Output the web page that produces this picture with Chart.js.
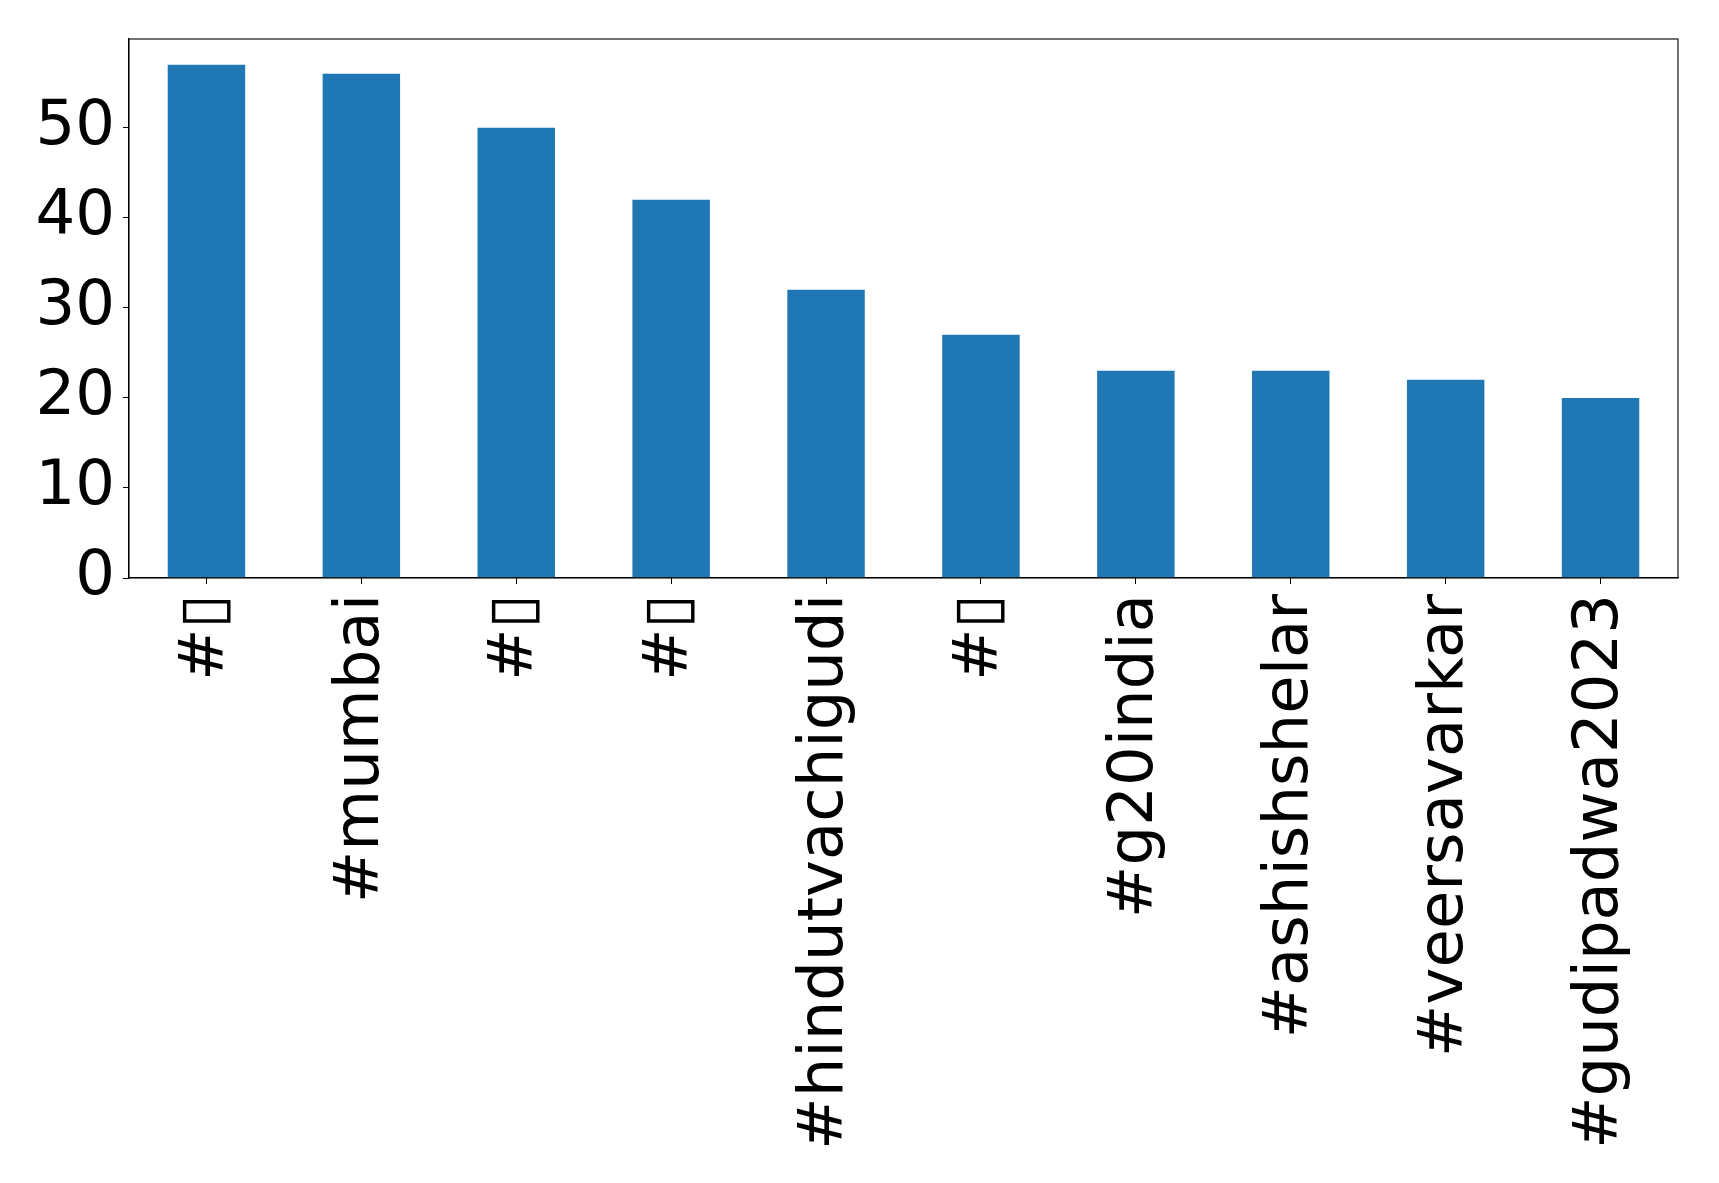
<!DOCTYPE html>
<html>
<head>
<meta charset="utf-8">
<script src="https://cdn.jsdelivr.net/npm/chart.js@4/dist/chart.umd.min.js"></script>
<style>
  html, body { margin: 0; padding: 0; background: #fff; }
  #wrap { width: 1719px; height: 1183px; }
</style>
</head>
<body>
<div id="wrap"><canvas id="c" width="1719" height="1183"></canvas></div>
<script>
const categories = ['#\u25AF', '#mumbai', '#\u25AF', '#\u25AF', '#hindutvachigudi', '#\u25AF', '#g20india', '#ashishshelar', '#veersavarkar', '#gudipadwa2023'];
const counts = [57, 56, 50, 42, 32, 27, 23, 23, 22, 20];
const yTickValues = [0, 10, 20, 30, 40, 50];

const FONT = { family: '"DejaVu Sans", sans-serif', size: 62.5 };

const framePlugin = {
  id: 'frame',
  afterDraw(chart) {
    const a = chart.chartArea, ctx = chart.ctx;
    ctx.save();
    ctx.strokeStyle = '#000';
    ctx.lineWidth = 1.1;
    ctx.strokeRect(a.left, a.top, a.right - a.left, a.bottom - a.top);
    ctx.restore();
  }
};

new Chart(document.getElementById('c'), {
  type: 'bar',
  data: {
    labels: categories,
    datasets: [{
      data: counts,
      backgroundColor: '#1f77b4',
      borderWidth: 0,
      barPercentage: 0.5,
      categoryPercentage: 1.0
    }]
  },
  options: {
    responsive: false,
    devicePixelRatio: 1,
    animation: false,
    layout: { padding: { top: 39, right: 41, left: 0, bottom: 0 } },
    plugins: { legend: { display: false }, tooltip: { enabled: false } },
    scales: {
      x: {
        offset: true,
        grid: { display: true, offset: false, drawOnChartArea: false, drawTicks: true, tickLength: 6, color: '#000', lineWidth: 1 },
        border: { display: true, color: '#000', width: 1.1 },
        ticks: { color: '#000', font: FONT, minRotation: 90, maxRotation: 90, autoSkip: false, padding: 10 },
        afterFit(scale) { scale.height = 605; scale.paddingLeft = 0; scale.paddingRight = 0; }
      },
      y: {
        min: 0,
        max: Math.max(...counts) * 1.05,
        grid: { display: true, drawOnChartArea: false, drawTicks: true, tickLength: 6, color: '#000', lineWidth: 1 },
        border: { display: true, color: '#000', width: 1.1 },
        ticks: { color: '#000', font: FONT, padding: 8, stepSize: 10 },
        afterBuildTicks(scale) { scale.ticks = yTickValues.map(v => ({ value: v })); },
        afterFit(scale) { scale.width = 129; scale.paddingTop = 0; scale.paddingBottom = 0; }
      }
    }
  },
  plugins: [framePlugin]
});
</script>
</body>
</html>
